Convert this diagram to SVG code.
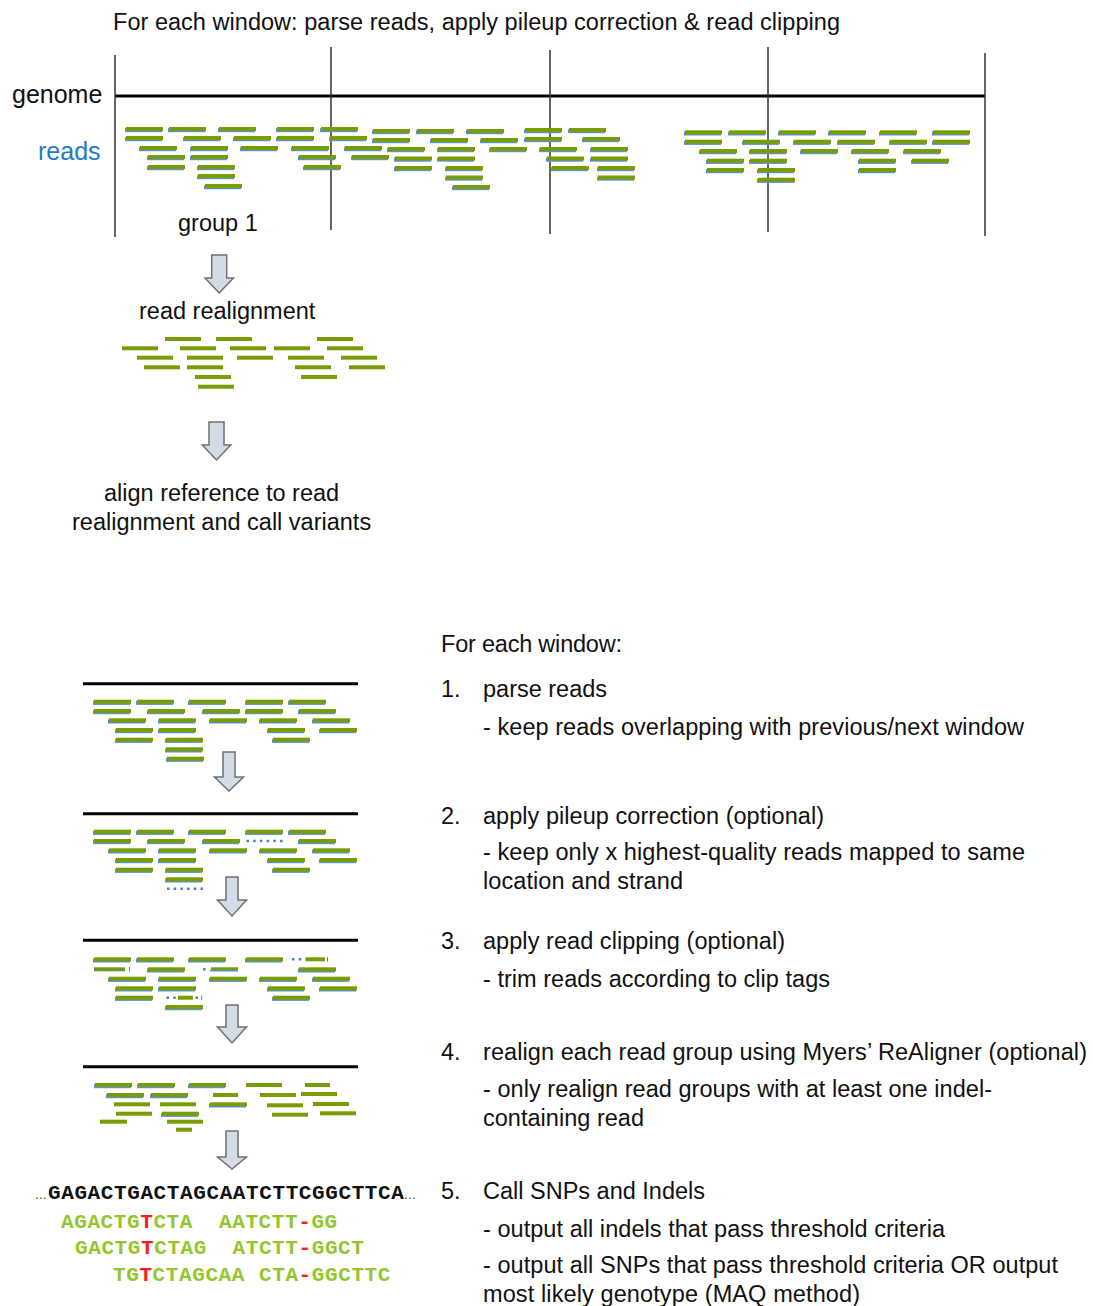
<svg xmlns="http://www.w3.org/2000/svg" width="1093" height="1306" viewBox="0 0 1093 1306">
  <style>
    text { font-family: "Liberation Sans", Arial, sans-serif; font-size: 23.5px; fill: #111; }
    .lbl { font-size: 25px; }
    .blue { fill: #1f7bc8; }
    .rule { stroke: #000; stroke-width: 3; }
    .win { stroke: #333; stroke-width: 1.5; }
    .arrow { fill: #d3dce6; stroke: #707070; stroke-width: 1.5; stroke-linejoin: miter; }
    .dot { stroke: #4a7fc8; stroke-width: 2.5; stroke-dasharray: 2.5 4.2; }
    .tick { stroke: #4a7fc8; stroke-width: 1; }
    .seq { font-family: "Liberation Mono", "Courier New", monospace; font-weight: bold; font-size: 21px; letter-spacing: 0.6px; }
    .ref { fill: #111; }
    .rd { fill: #94c62e; }
    .mut { fill: #ff1a1a; }
    .ell { font-size: 14px; fill: #555; }
  </style>
  <defs>
    <!-- read bar with blue underline -->
    <g id="rd">
      <rect x="-1" y="-0.8" width="37" height="4" fill="#5b8fd6"/>
      <rect x="0" y="-2" width="37" height="4" fill="#789d02"/>
    </g>
    <!-- plain green read bar -->
    <g id="rg">
      <rect x="0" y="-2" width="36" height="4" fill="#789d02"/>
    </g>
  </defs>

  <!-- title -->
  <g id="title">
    <text x="113" y="30" textLength="727">For each window: parse reads, apply pileup correction &amp; read clipping</text>
  </g>

  <!-- genome with window boundaries -->
  <g id="genome">
    <text class="lbl" x="12" y="103">genome</text>
    <line class="rule" x1="115" y1="96" x2="985" y2="96"/>
    <line class="win" x1="115" y1="55" x2="115" y2="237"/>
    <line class="win" x1="331" y1="47" x2="331" y2="230"/>
    <line class="win" x1="550" y1="50" x2="550" y2="234"/>
    <line class="win" x1="768" y1="47" x2="768" y2="232"/>
    <line class="win" x1="985" y1="53" x2="985" y2="236"/>
  </g>

  <!-- mapped reads along the genome -->
  <g id="reads">
    <text class="lbl blue" x="38" y="160">reads</text>
    <!-- group 1 -->
    <use href="#rd" x="126" y="129"/><use href="#rd" x="169" y="129"/><use href="#rd" x="219" y="129"/><use href="#rd" x="277" y="129"/><use href="#rd" x="321" y="129"/>
    <use href="#rd" x="126" y="138"/><use href="#rd" x="184" y="138"/><use href="#rd" x="234" y="138"/><use href="#rd" x="277" y="138"/><use href="#rd" x="330" y="138"/>
    <use href="#rd" x="140" y="148"/><use href="#rd" x="191" y="148"/><use href="#rd" x="241" y="148"/><use href="#rd" x="292" y="148"/><use href="#rd" x="345" y="148"/>
    <use href="#rd" x="148" y="157"/><use href="#rd" x="191" y="157"/><use href="#rd" x="299" y="157"/><use href="#rd" x="352" y="157"/>
    <use href="#rd" x="148" y="167"/><use href="#rd" x="198" y="167"/><use href="#rd" x="304" y="167"/>
    <use href="#rd" x="198" y="176"/>
    <use href="#rd" x="205" y="186"/>
    <!-- middle group -->
    <use href="#rd" x="373" y="131"/><use href="#rd" x="417" y="131"/><use href="#rd" x="467" y="131"/><use href="#rd" x="525" y="130"/><use href="#rd" x="569" y="130"/>
    <use href="#rd" x="373" y="140"/><use href="#rd" x="431" y="140"/><use href="#rd" x="481" y="140"/><use href="#rd" x="525" y="139"/><use href="#rd" x="583" y="139"/>
    <use href="#rd" x="388" y="149"/><use href="#rd" x="438" y="149"/><use href="#rd" x="490" y="149"/><use href="#rd" x="540" y="149"/><use href="#rd" x="591" y="149"/>
    <use href="#rd" x="395" y="158.5"/><use href="#rd" x="438" y="158.5"/><use href="#rd" x="547" y="158.5"/><use href="#rd" x="591" y="158.5"/>
    <use href="#rd" x="395" y="168"/><use href="#rd" x="446" y="168"/><use href="#rd" x="552" y="168"/><use href="#rd" x="598" y="168"/>
    <use href="#rd" x="446" y="177.5"/><use href="#rd" x="598" y="177.5"/>
    <use href="#rd" x="453" y="187"/>
    <!-- right group -->
    <use href="#rd" x="685" y="132.3"/><use href="#rd" x="729" y="132.3"/><use href="#rd" x="779" y="132.3"/><use href="#rd" x="829" y="132.3"/><use href="#rd" x="880" y="132.3"/><use href="#rd" x="933" y="132.3"/>
    <use href="#rd" x="685" y="141.7"/><use href="#rd" x="743" y="141.7"/><use href="#rd" x="794" y="141.7"/><use href="#rd" x="838" y="141.7"/><use href="#rd" x="890" y="141.7"/><use href="#rd" x="933" y="141.7"/>
    <use href="#rd" x="700" y="151"/><use href="#rd" x="750" y="151"/><use href="#rd" x="801" y="151"/><use href="#rd" x="852" y="151"/><use href="#rd" x="904" y="151"/>
    <use href="#rd" x="707" y="160.7"/><use href="#rd" x="750" y="160.7"/><use href="#rd" x="859" y="160.7"/><use href="#rd" x="912" y="160.7"/>
    <use href="#rd" x="707" y="170"/><use href="#rd" x="758" y="170"/><use href="#rd" x="859" y="170"/>
    <use href="#rd" x="758" y="179.7"/>
    <text x="178" y="231">group 1</text>
  </g>

  <!-- connectors: block arrows -->
  <g id="connectors">
    <path class="arrow" d="M211.7,255 H226.7 V278 H233.4 L219.2,293 L205,278 H211.7 Z"/>
    <path class="arrow" d="M209,422 H224 V445 H230.7 L216.5,460 L202.3,445 H209 Z"/>
    <path class="arrow" d="M223,752 H235 V777 H243.5 L229,791 L214.5,777 H223 Z"/>
    <path class="arrow" d="M226,877 H238 V900 H246.5 L232,916 L217.5,900 H226 Z"/>
    <path class="arrow" d="M226,1005 H238 V1027 H246.5 L232,1043 L217.5,1027 H226 Z"/>
    <path class="arrow" d="M226,1131 H238 V1157 H246.5 L232,1169 L217.5,1157 H226 Z"/>
  </g>

  <!-- realigned read group -->
  <g id="realignment">
    <text x="139" y="319">read realignment</text>
    <use href="#rg" x="165" y="339"/><use href="#rg" x="216" y="339"/><use href="#rg" x="317" y="339"/>
    <use href="#rg" x="122" y="348.3"/><use href="#rg" x="180" y="348.3"/><use href="#rg" x="230" y="348.3"/><use href="#rg" x="274" y="348.3"/><use href="#rg" x="327" y="348.3"/>
    <use href="#rg" x="137" y="357.7"/><use href="#rg" x="187" y="357.7"/><use href="#rg" x="237" y="357.7"/><use href="#rg" x="288" y="357.7"/><use href="#rg" x="341" y="357.7"/>
    <use href="#rg" x="144" y="367.3"/><use href="#rg" x="187" y="367.3"/><use href="#rg" x="295" y="367.3"/><use href="#rg" x="349" y="367.3"/>
    <use href="#rg" x="195" y="377"/><use href="#rg" x="301" y="377"/>
    <use href="#rg" x="198" y="386.7"/>
  </g>

  <g id="variants">
    <text x="104" y="501">align reference to read</text>
    <text x="72" y="530">realignment and call variants</text>
  </g>

  <!-- step 1: parsed reads -->
  <g id="step1-reads">
    <line class="rule" x1="83" y1="683.7" x2="358" y2="683.7"/>
    <use href="#rd" x="94" y="701.7"/><use href="#rd" x="137" y="701.7"/><use href="#rd" x="189" y="701.7"/><use href="#rd" x="246" y="701.7"/><use href="#rd" x="289" y="701.7"/>
    <use href="#rd" x="94" y="711"/><use href="#rd" x="148" y="711"/><use href="#rd" x="203" y="711"/><use href="#rd" x="246" y="711"/><use href="#rd" x="299" y="711"/>
    <use href="#rd" x="109" y="720.3"/><use href="#rd" x="159" y="720.3"/><use href="#rd" x="210" y="720.3"/><use href="#rd" x="260" y="720.3"/><use href="#rd" x="313" y="720.3"/>
    <use href="#rd" x="116" y="730"/><use href="#rd" x="159" y="730"/><use href="#rd" x="268" y="730"/><use href="#rd" x="320" y="730"/>
    <use href="#rd" x="116" y="739.7"/><use href="#rd" x="166" y="739.7"/><use href="#rd" x="273" y="739.7"/>
    <use href="#rd" x="166" y="749.3"/>
    <use href="#rd" x="167" y="758.7"/>
  </g>

  <!-- step 2: pileup correction removes duplicates -->
  <g id="step2-reads">
    <line class="rule" x1="83" y1="813.7" x2="358" y2="813.7"/>
    <use href="#rd" x="94" y="831.7"/><use href="#rd" x="137" y="831.7"/><use href="#rd" x="189" y="831.7"/><use href="#rd" x="246" y="831.7"/><use href="#rd" x="289" y="831.7"/>
    <use href="#rd" x="94" y="841"/><use href="#rd" x="148" y="841"/><use href="#rd" x="203" y="841"/><line class="dot" x1="246.5" y1="841" x2="283" y2="841"/><use href="#rd" x="299" y="841"/>
    <use href="#rd" x="109" y="850.3"/><use href="#rd" x="159" y="850.3"/><use href="#rd" x="210" y="850.3"/><use href="#rd" x="260" y="850.3"/><use href="#rd" x="313" y="850.3"/>
    <use href="#rd" x="116" y="860"/><use href="#rd" x="159" y="860"/><use href="#rd" x="268" y="860"/><use href="#rd" x="320" y="860"/>
    <use href="#rd" x="116" y="869.7"/><use href="#rd" x="166" y="869.7"/><use href="#rd" x="273" y="869.7"/>
    <use href="#rd" x="166" y="879.3"/>
    <line class="dot" x1="167" y1="888.7" x2="204" y2="888.7"/>
  </g>

  <!-- step 3: clipped reads -->
  <g id="step3-reads">
    <line class="rule" x1="83" y1="940.3" x2="358" y2="940.3"/>
    <use href="#rd" x="94" y="959.3"/><use href="#rd" x="137" y="959.3"/><use href="#rd" x="189" y="959.3"/><use href="#rd" x="246" y="959.3"/>
    <line class="dot" x1="292" y1="959.3" x2="302" y2="959.3"/><rect x="305.5" y="957.3" width="19.5" height="4" fill="#789d02"/><line class="tick" x1="327.5" y1="957" x2="327.5" y2="961.5"/>
    <rect x="94" y="967.3" width="31" height="4" fill="#789d02"/><line class="dot" x1="94" y1="969.8" x2="126" y2="969.8" style="stroke-width:1.5"/><line class="tick" x1="129.5" y1="967" x2="129.5" y2="971.5"/>
    <use href="#rd" x="148" y="969.3"/>
    <line class="dot" x1="203" y1="969.3" x2="206" y2="969.3"/><rect x="211" y="967.3" width="27" height="4" fill="#789d02"/><rect x="210" y="969.8" width="28" height="1.5" fill="#5b8fd6"/>
    <use href="#rd" x="299" y="969.3"/>
    <use href="#rd" x="109" y="978.7"/><use href="#rd" x="159" y="978.7"/><use href="#rd" x="210" y="978.7"/><use href="#rd" x="260" y="978.7"/><use href="#rd" x="313" y="978.7"/>
    <use href="#rd" x="116" y="988.3"/><use href="#rd" x="159" y="988.3"/><use href="#rd" x="268" y="988.3"/><use href="#rd" x="320" y="988.3"/>
    <use href="#rd" x="116" y="997.7"/>
    <line class="dot" x1="166.5" y1="997.7" x2="177" y2="997.7"/><rect x="178" y="995.7" width="15" height="4" fill="#789d02"/><line class="dot" x1="195.5" y1="997.7" x2="198" y2="997.7"/><line class="tick" x1="201.7" y1="995.5" x2="201.7" y2="1000"/>
    <use href="#rd" x="273" y="997.7"/>
    <use href="#rd" x="166" y="1007"/>
  </g>

  <!-- step 4: realigned reads -->
  <g id="step4-reads">
    <line class="rule" x1="83" y1="1066.7" x2="358" y2="1066.7"/>
    <use href="#rd" x="95" y="1085"/><use href="#rd" x="138" y="1085"/><use href="#rd" x="189" y="1085"/><use href="#rg" x="246" y="1085"/><rect x="305" y="1083" width="25" height="4" fill="#789d02"/>
    <use href="#rd" x="107" y="1095"/><use href="#rd" x="151" y="1095"/><rect x="213" y="1093" width="25" height="4" fill="#789d02"/><use href="#rg" x="260" y="1095"/><use href="#rg" x="301" y="1094"/>
    <use href="#rg" x="114" y="1104.3"/><use href="#rg" x="160" y="1104.3"/><use href="#rd" x="210" y="1104.3"/><use href="#rg" x="267" y="1105.3"/><use href="#rg" x="313" y="1104"/>
    <use href="#rg" x="116" y="1113.7"/><use href="#rd" x="162" y="1113.7"/><use href="#rg" x="272" y="1114.7"/><use href="#rg" x="320" y="1113.3"/>
    <rect x="100" y="1119.7" width="27" height="4" fill="#789d02"/><use href="#rg" x="167" y="1121.7"/>
    <rect x="176" y="1127.7" width="16" height="4" fill="#789d02"/>
  </g>

  <!-- step 5: reference and reads with variants -->
  <g id="calls">
    <text class="ell" x="35" y="1199">...</text>
    <text class="seq ref" x="48" y="1199">GAGACTGACTAGCAATCTTCGGCTTCA</text>
    <text class="ell" x="404" y="1199">...</text>
    <text class="seq rd" x="61" y="1228">AGACTG<tspan class="mut">T</tspan>CTA</text>
    <text class="seq rd" x="219" y="1228">AATCTT<tspan class="mut">-</tspan>GG</text>
    <text class="seq rd" x="75" y="1254">GACTG<tspan class="mut">T</tspan>CTAG</text>
    <text class="seq rd" x="232.5" y="1254">ATCTT<tspan class="mut">-</tspan>GGCT</text>
    <text class="seq rd" x="113" y="1281">TG<tspan class="mut">T</tspan>CTAGCAA</text>
    <text class="seq rd" x="259" y="1281">CTA<tspan class="mut">-</tspan>GGCTTC</text>
  </g>

  <!-- processing steps -->
  <g id="steps">
    <text x="441" y="652" textLength="181">For each window:</text>
    <g id="step1">
      <text x="441" y="697">1.</text>
      <text x="483" y="697" textLength="124">parse reads</text>
      <text x="483" y="735" textLength="541">- keep reads overlapping with previous/next window</text>
    </g>
    <g id="step2">
      <text x="441" y="824">2.</text>
      <text x="483" y="824" textLength="341">apply pileup correction (optional)</text>
      <text x="483" y="860" textLength="542">- keep only x highest-quality reads mapped to same</text>
      <text x="483" y="889" textLength="200">location and strand</text>
    </g>
    <g id="step3">
      <text x="441" y="949">3.</text>
      <text x="483" y="949" textLength="302">apply read clipping (optional)</text>
      <text x="483" y="987" textLength="347">- trim reads according to clip tags</text>
    </g>
    <g id="step4">
      <text x="441" y="1060">4.</text>
      <text x="483" y="1060" textLength="604">realign each read group using Myers’ ReAligner (optional)</text>
      <text x="483" y="1097" textLength="509">- only realign read groups with at least one indel-</text>
      <text x="483" y="1126" textLength="161">containing read</text>
    </g>
    <g id="step5">
      <text x="441" y="1199">5.</text>
      <text x="483" y="1199" textLength="222">Call SNPs and Indels</text>
      <text x="483" y="1237" textLength="462">- output all indels that pass threshold criteria</text>
      <text x="483" y="1273" textLength="575">- output all SNPs that pass threshold criteria OR output</text>
      <text x="483" y="1302" textLength="377">most likely genotype (MAQ method)</text>
    </g>
  </g>
</svg>
